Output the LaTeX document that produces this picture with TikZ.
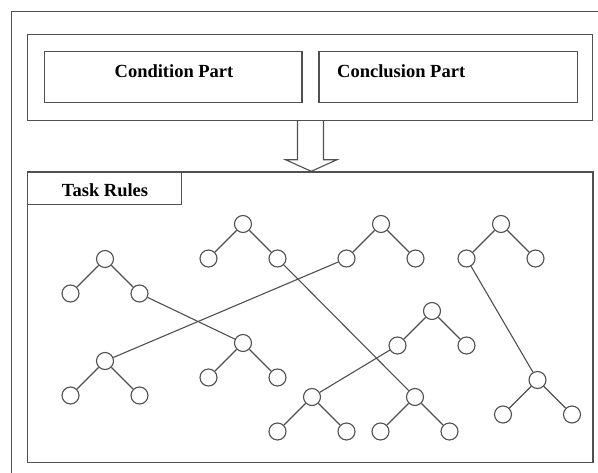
\documentclass[tikz,border=0pt]{standalone}
\usepackage{fontspec}
\setmainfont{Liberation Serif}
\usetikzlibrary{calc}
\definecolor{ln}{HTML}{505050}
\newcommand{\mktree}[3]{%
  \node[circ] (#1) at (#2,#3) {};
  \node[circ] (#11) at (#2-34.5,#3+34.5) {};
  \node[circ] (#12) at (#2+34.5,#3+34.5) {};
  \draw[edge] (#1) -- (#11);
  \draw[edge] (#1) -- (#12);
}
\begin{document}
\begin{tikzpicture}[x=1pt,y=-1pt,
  frame/.style={draw=ln,line width=1.4pt,rectangle,inner sep=0pt},
  circ/.style={draw=ln,line width=1.1pt,circle,minimum size=17pt,inner sep=0pt},
  edge/.style={draw=ln,line width=1.1pt},
  lbl/.style={font=\fontsize{18.5}{20}\selectfont\bfseries,inner sep=0pt,text=black}]
\useasboundingbox (0,0) rectangle (598,472);
\fill[white] (0,0) rectangle (598,472);
\begin{scope}
\clip (0,0) rectangle (598,472);
\draw[ln,line width=1.4pt] (11.5,11.5) rectangle (620,490);
\end{scope}
% top box
\node[frame,minimum width=565pt,minimum height=86pt] (top) at (310,77.5) {};
\node[frame,minimum width=257.5pt,minimum height=51pt] (cond) at (173.25,77) {};
\node[frame,minimum width=258.5pt,minimum height=51pt] (concl) at (448.25,77) {};
\node[lbl] (condt) at (174,71.5) {Condition Part};
\node[lbl,anchor=west] (conclt) at (337,71.5) {Conclusion Part};
% task box
\node[frame,minimum width=565.5pt,minimum height=290.5pt] (task) at (310.25,317.25) {};
\node[frame,minimum width=154pt,minimum height=32.5pt] (tlab) at (104.5,188.25) {};
\node[lbl] (tlabt) at (105,190) {Task Rules};
% block arrow
\draw[ln,line width=1.1pt]
  ($(top.south)+(-12.5,0)$) -- ($(top.south)+(-12.5,38.5)$) -- ($(top.south)+(-24.5,38.5)$)
  -- ($(task.north)+(1,0)$) -- ($(top.south)+(27,38.5)$) -- ($(top.south)+(13.5,38.5)$)
  -- ($(top.south)+(13.5,0)$);
% trees
\mktree{a}{105}{259}
\mktree{b}{243}{224}
\mktree{c}{105}{361}
\mktree{d}{243}{343}
\mktree{e}{381}{224}
\mktree{f}{501}{224}
\mktree{g}{432}{311}
\mktree{h}{537.5}{380}
\mktree{i}{312}{397}
\mktree{j}{415}{397}
% cross links
\draw[edge] (a2) -- (d);
\draw[edge] (c) -- (e1);
\draw[edge] (b2) -- (j);
\draw[edge] (g1) -- (i);
\draw[edge] (f1) -- (h);
\end{tikzpicture}
\end{document}
